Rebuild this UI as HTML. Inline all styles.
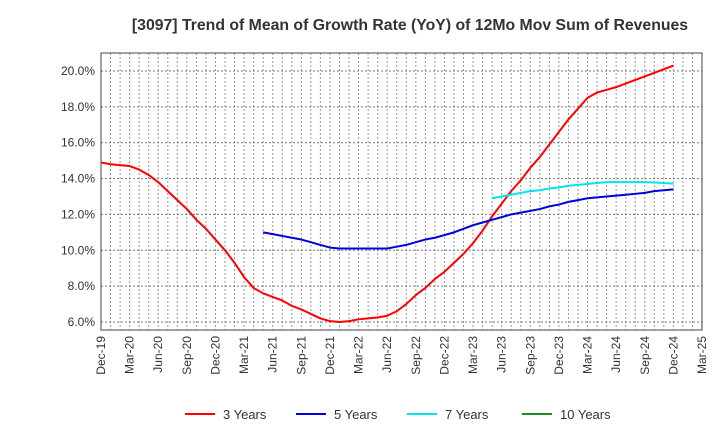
<!DOCTYPE html>
<html><head><meta charset="utf-8"><style>
body{margin:0;background:#fff;font-family:"Liberation Sans",Arial,sans-serif}
svg text{font-family:"Liberation Sans",Arial,sans-serif}
</style></head><body>
<svg id="chart" width="720" height="440" viewBox="0 0 720 440">
<text x="410" y="30" text-anchor="middle" font-size="15.8" font-weight="bold" fill="#333">[3097]  Trend of Mean of Growth Rate (YoY) of 12Mo Mov Sum of Revenues</text>
<g id="grid"></g><g id="axes"></g><g id="series"></g><g id="legend"></g>
</svg>
<script>
const xLabels=["Dec-19","Mar-20","Jun-20","Sep-20","Dec-20","Mar-21","Jun-21","Sep-21","Dec-21","Mar-22","Jun-22","Sep-22","Dec-22","Mar-23","Jun-23","Sep-23","Dec-23","Mar-24","Jun-24","Sep-24","Dec-24","Mar-25"];
const yTicks=[6,8,10,12,14,16,18,20];
const seriesNames=["3 Years","5 Years","7 Years","10 Years"];
const seriesColors=["#ff0000","#0000dd","#00e5ee","#228b22"];
const y3=[14.9,14.8,14.75,14.7,14.5,14.2,13.8,13.3,12.8,12.3,11.7,11.2,10.6,10.0,9.3,8.5,7.9,7.6,7.4,7.2,6.9,6.7,6.45,6.2,6.05,6.0,6.05,6.15,6.2,6.25,6.35,6.6,7.0,7.5,7.9,8.4,8.8,9.3,9.8,10.4,11.1,11.9,12.6,13.3,13.9,14.6,15.2,15.9,16.6,17.3,17.9,18.5,18.8,18.95,19.1,19.3,19.5,19.7,19.9,20.1,20.3];
const start5=17;
const y5=[11.0,10.9,10.8,10.7,10.6,10.45,10.3,10.15,10.1,10.1,10.1,10.1,10.1,10.1,10.2,10.3,10.45,10.6,10.7,10.85,11.0,11.2,11.4,11.55,11.7,11.85,12.0,12.1,12.2,12.3,12.45,12.55,12.7,12.8,12.9,12.95,13.0,13.05,13.1,13.15,13.2,13.3,13.35,13.4];
const start7=41;
const y7=[12.9,13.0,13.1,13.2,13.3,13.35,13.45,13.5,13.6,13.65,13.7,13.75,13.8,13.8,13.8,13.8,13.8,13.78,13.75,13.72];
const y10=[];
const L=101,R=702,T=53,B=330,NM=63;
const X=m=>L+(R-L)*m/NM;
const Y=v=>322-(v-6)*(322-71)/14;
const NS="http://www.w3.org/2000/svg";
function mk(tag,attrs,parent,txt){const e=document.createElementNS(NS,tag);for(const k in attrs)e.setAttribute(k,attrs[k]);if(txt!==undefined)e.textContent=txt;parent.appendChild(e);return e;}
const grid=document.getElementById('grid'),axes=document.getElementById('axes'),ser=document.getElementById('series'),leg=document.getElementById('legend');
for(let m=1;m<NM;m++){const l=mk('line',{x1:X(m),x2:X(m),y1:T,y2:B,stroke:'#999','stroke-dasharray':'2,2','stroke-width':1},grid);

}
yTicks.forEach(v=>{const l=mk('line',{x1:L,x2:R,y1:Y(v),y2:Y(v),stroke:'#777','stroke-dasharray':'2,2','stroke-width':1},grid);


const t=mk('text',{x:L-6,y:Y(v)+4,'text-anchor':'end','font-size':12,fill:'#333'},axes,v.toFixed(1)+'%');

});
const fr=mk('rect',{x:L,y:T,width:R-L,height:B-T,fill:'none',stroke:'#444','stroke-width':1},axes);


xLabels.forEach((s,i)=>{const x=X(i*3);const t=mk('text',{x:x+4,y:B+6,'text-anchor':'end','font-size':12,fill:'#333',transform:`rotate(-90 ${x+4} ${B+6})`},axes,s);

});
function line(vals,start,color,name){if(!vals.length)return;const p=mk('polyline',{points:vals.map((v,i)=>X(start+i)+','+Y(v)).join(' '),fill:'none',stroke:color,'stroke-width':2,'stroke-linejoin':'round'},ser);

}
line(y3,0,seriesColors[0],'series-3-years');
line(y5,start5,seriesColors[1],'series-5-years');
line(y7,start7,seriesColors[2],'series-7-years');
line(y10,0,seriesColors[3],'series-10-years');
const lx=[185,296,407,522];
seriesNames.forEach((n,i)=>{const g=mk('g',{},leg);


mk('line',{x1:lx[i],x2:lx[i]+30,y1:414,y2:414,stroke:seriesColors[i],'stroke-width':2},g);
mk('text',{x:lx[i]+38,y:419,'font-size':13,fill:'#333'},g,n);});
</script>
</body></html>
